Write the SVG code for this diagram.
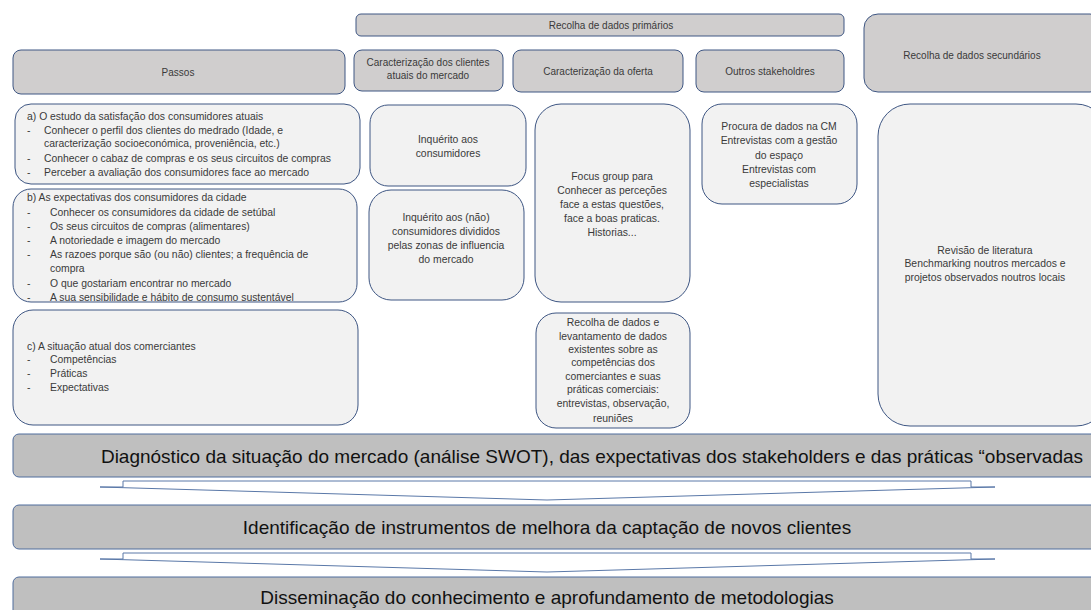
<svg xmlns="http://www.w3.org/2000/svg" width="1091" height="610" viewBox="0 0 1091 610">
<style>
.hdr{fill:#d0cece;stroke:#3e5683;stroke-width:1}
.box{fill:#f2f2f2;stroke:#3e5683;stroke-width:1}
.bar{fill:#bfbfbf;stroke:#4f6c9c;stroke-width:1}
.conn{fill:#ffffff;stroke:#5a78a8;stroke-width:1}
text{font-family:"Liberation Sans",Arial,sans-serif}
.t{font-size:10.4px;fill:#3a3a3a}
.h{font-size:10px}
.c{text-anchor:middle}
.bt{font-size:19px;fill:#111111;text-anchor:middle}
</style>
<rect width="1091" height="610" fill="#ffffff"/>

<g id="hdr-primarios">
<rect class="hdr" x="356" y="14" width="488" height="22" rx="5"/>
<text class="t h c" x="611" y="28.5">Recolha de dados primários</text>
</g>
<g id="hdr-secundarios">
<rect class="hdr" x="864" y="14" width="240" height="78" rx="14"/>
<text class="t h c" x="972" y="58.5">Recolha de dados secundários</text>
</g>
<g id="hdr-passos">
<rect class="hdr" x="13" y="50" width="332" height="44" rx="8"/>
<text class="t h c" x="178" y="75.5">Passos</text>
</g>
<g id="hdr-clientes">
<rect class="hdr" x="354" y="50" width="149" height="41" rx="8"/>
<text class="t h c" x="428" y="65.5">Caracterização dos clientes</text>
<text class="t h c" x="428" y="78.5">atuais do mercado</text>
</g>
<g id="hdr-oferta">
<rect class="hdr" x="513" y="50" width="170" height="42" rx="8"/>
<text class="t h c" x="598" y="74.5">Caracterização da oferta</text>
</g>
<g id="hdr-stakeholders">
<rect class="hdr" x="696" y="50" width="148" height="42" rx="8"/>
<text class="t h c" x="770" y="74.5">Outros stakeholdres</text>
</g>

<g id="passo-a">
<rect class="box" x="15" y="104" width="345" height="80" rx="16"/>
<text class="t" x="27" y="119.5">a) O estudo da satisfação  dos consumidores atuais</text>
<text class="t" x="27" y="133.5">-</text><text class="t" x="44" y="133.5">Conhecer o perfil dos clientes do medrado  (Idade, e</text>
<text class="t" x="44" y="147">caracterização socioeconómica, proveniência, etc.)</text>
<text class="t" x="27" y="161.5">-</text><text class="t" x="44" y="161.5">Conhecer o cabaz de compras e os seus circuitos de compras</text>
<text class="t" x="27" y="175.5">-</text><text class="t" x="44" y="175.5">Perceber a avaliação dos consumidores face ao mercado</text>
</g>
<g id="passo-b">
<rect class="box" x="13" y="189" width="344" height="113" rx="18"/>
<text class="t" x="27" y="200.5">b) As expectativas dos consumidores da cidade</text>
<text class="t" x="27" y="215.5">-</text><text class="t" x="50" y="215.5">Conhecer os consumidores da cidade de setúbal</text>
<text class="t" x="27" y="229.5">-</text><text class="t" x="50" y="229.5">Os seus circuitos de compras (alimentares)</text>
<text class="t" x="27" y="243.5">-</text><text class="t" x="50" y="243.5">A notoriedade e imagem do mercado</text>
<text class="t" x="27" y="257.5">-</text><text class="t" x="50" y="257.5">As razoes porque são (ou não) clientes; a frequência de</text>
<text class="t" x="50" y="271.5">compra</text>
<text class="t" x="27" y="286.5">-</text><text class="t" x="50" y="286.5">O que gostariam encontrar no mercado</text>
<text class="t" x="27" y="300.5">-</text><text class="t" x="50" y="300.5">A sua sensibilidade e hábito de consumo sustentável</text>
</g>
<g id="passo-c">
<rect class="box" x="13" y="310" width="345" height="115" rx="20"/>
<text class="t" x="27" y="349.5">c) A situação atual dos comerciantes</text>
<text class="t" x="27" y="362.5">-</text><text class="t" x="50" y="362.5">Competências</text>
<text class="t" x="27" y="376.5">-</text><text class="t" x="50" y="376.5">Práticas</text>
<text class="t" x="27" y="390.5">-</text><text class="t" x="50" y="390.5">Expectativas</text>
</g>

<g id="inquerito-consumidores">
<rect class="box" x="370" y="105" width="156" height="81" rx="18"/>
<text class="t c" x="448" y="142.5">Inquérito aos</text>
<text class="t c" x="448" y="156.5">consumidores</text>
</g>
<g id="inquerito-nao-consumidores">
<rect class="box" x="369" y="190" width="155" height="110" rx="22"/>
<text class="t c" x="446" y="220.5">Inquérito aos (não)</text>
<text class="t c" x="446" y="234.5">consumidores divididos</text>
<text class="t c" x="446" y="248.5">pelas zonas de influencia</text>
<text class="t c" x="446" y="262.5">do mercado</text>
</g>
<g id="focus-group">
<rect class="box" x="535" y="104" width="155" height="198" rx="26"/>
<text class="t c" x="612" y="179.5">Focus group para</text>
<text class="t c" x="612" y="193.5">Conhecer as perceções</text>
<text class="t c" x="612" y="207.5">face a estas questões,</text>
<text class="t c" x="612" y="221.5">face a boas praticas.</text>
<text class="t c" x="612" y="235.5">Historias...</text>
</g>
<g id="recolha-comerciantes">
<rect class="box" x="536" y="313" width="154" height="115" rx="20"/>
<text class="t c" x="613" y="325.5">Recolha de dados e</text>
<text class="t c" x="613" y="339.5">levantamento de dados</text>
<text class="t c" x="613" y="352.5">existentes sobre as</text>
<text class="t c" x="613" y="365.5">competências dos</text>
<text class="t c" x="613" y="379.5">comerciantes e suas</text>
<text class="t c" x="613" y="392.5">práticas comerciais:</text>
<text class="t c" x="613" y="406.5">entrevistas, observação,</text>
<text class="t c" x="613" y="421.5">reuniões</text>
</g>
<g id="procura-cm">
<rect class="box" x="702" y="104" width="155" height="100" rx="20"/>
<text class="t c" x="779" y="129.5">Procura de dados na CM</text>
<text class="t c" x="779" y="143.5">Entrevistas com a gestão</text>
<text class="t c" x="779" y="158.5">do espaço</text>
<text class="t c" x="779" y="172.5">Entrevistas com</text>
<text class="t c" x="779" y="186.5">especialistas</text>
</g>
<g id="revisao-literatura">
<rect class="box" x="878" y="104" width="230" height="322" rx="32"/>
<text class="t c" x="985" y="253.5">Revisão de literatura</text>
<text class="t c" x="985" y="266.5">Benchmarking noutros mercados e</text>
<text class="t c" x="985" y="280.5">projetos observados noutros locais</text>
</g>

<g id="bar-diagnostico">
<rect class="bar" x="13" y="434" width="1090" height="43" rx="6"/>
<text class="bt" x="592" y="462.5">Diagnóstico da situação do mercado (análise SWOT), das expectativas dos stakeholders e das práticas “observadas</text>
</g>
<g id="bar-identificacao">
<rect class="bar" x="13" y="505" width="1090" height="44" rx="6"/>
<text class="bt" x="547" y="533.5">Identificação de instrumentos de melhora da captação de novos clientes</text>
</g>
<g id="bar-disseminacao">
<rect class="bar" x="13" y="577" width="1090" height="44" rx="6"/>
<text class="bt" x="547" y="603.5">Disseminação do conhecimento e aprofundamento de metodologias</text>
</g>

<g id="connectors">
<path class="conn" d="M123,481 L971,481 L971,487 L995,487 L547,500 L100,487 L123,487 Z"/>
<path class="conn" d="M123,553 L971,553 L971,559 L995,559 L547,572 L100,559 L123,559 Z"/>
</g>
</svg>
